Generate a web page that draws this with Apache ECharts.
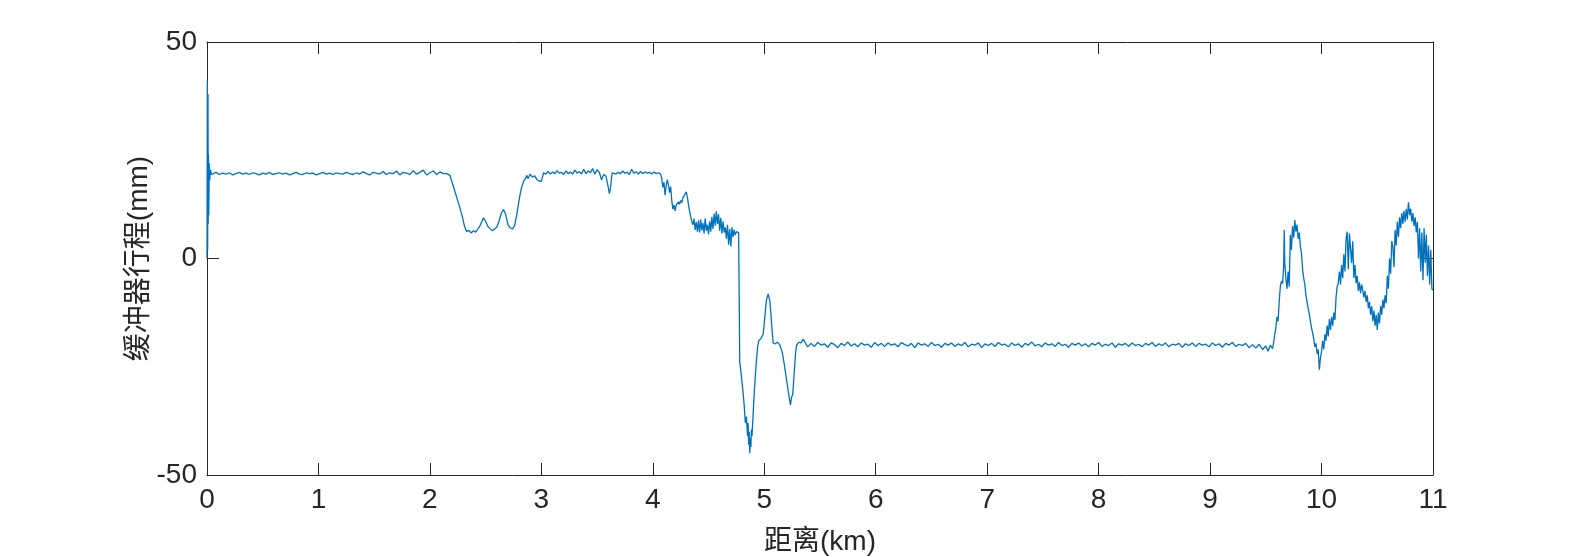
<!DOCTYPE html>
<html><head><meta charset="utf-8">
<script src="https://cdn.jsdelivr.net/npm/echarts@6/dist/echarts.min.js"></script>
<style>html,body{margin:0;padding:0;background:#fff}#c{width:1584px;height:557px}</style>
</head><body><div id="c"></div>
<script>
const xTicks = [0,1,2,3,4,5,6,7,8,9,10,11];
const yTicks = [-50,0,50];
const xName = '距离(km)';
const yName = '缓冲器行程(mm)';

const segStart = [[0,0],[0.003,41],[0.006,2],[0.009,38],[0.011,8],[0.013,24],[0.016,10],[0.02,22],[0.025,18],[0.03,20.5],[0.04,19.4]];
const segFlatHigh = [[0.05,19.6],[0.08,19.9],[0.11,19.4],[0.14,19.7],[0.17,19.5],[0.2,19.8],[0.23,19.3],[0.26,19.6],[0.29,19.9],[0.32,19.5],[0.35,19.7],[0.38,19.4],[0.41,19.8],[0.44,19.6],[0.47,19.3],[0.5,19.7],[0.53,19.5],[0.56,19.9],[0.59,19.4],[0.62,19.6],
[0.65,19.8],[0.68,19.5],[0.71,19.7],[0.74,19.3],[0.77,19.6],[0.8,19.9],[0.83,19.5],[0.86,19.4],[0.89,19.8],[0.92,19.6],[0.95,19.7],[0.98,19.3],[1.01,19.6],[1.04,19.9],[1.07,19.5],[1.1,19.7],[1.13,19.4],[1.16,19.8],[1.19,19.6],[1.22,19.5],
[1.25,19.9],[1.28,19.6],[1.31,19.4],[1.34,19.8],[1.37,19.5],[1.4,20.0],[1.43,19.6],[1.46,19.3],[1.49,19.9],[1.52,19.7],[1.55,19.5],[1.58,20.1],[1.61,19.4],[1.64,19.8],[1.67,19.6],[1.7,20.2],[1.73,19.3],[1.76,19.9],[1.79,19.7],[1.82,19.4],
[1.85,20.3],[1.88,19.5],[1.91,19.9],[1.94,20.4],[1.97,19.3],[2.0,19.8],[2.03,20.2],[2.06,19.4],[2.09,20.0],[2.12,19.6],[2.15,19.6]];
const segDip1 = [[2.18,19.2],[2.2,17.5],[2.23,15],[2.26,12.5],[2.29,9.8],[2.31,7.5],[2.33,6.2],[2.35,6.5],[2.37,5.9],[2.39,6.4],[2.41,6.1],[2.43,6.8],[2.45,7.6],[2.47,8.8],[2.48,9.4],[2.5,8.6],[2.52,7.4],[2.54,6.9],[2.56,6.4],[2.58,6.8],[2.6,7.2],[2.62,8.6],[2.64,10.4],[2.66,11.3],[2.68,10.2],[2.7,7.8],[2.72,7.1],[2.74,6.8],[2.76,7.6],[2.78,10.2],[2.8,13.5],[2.82,16.2],[2.84,17.8],[2.86,18.6],[2.87,19.2],[2.88,18.4],[2.9,19.5],[2.92,18.8],[2.94,19.1],[2.96,18.2],[2.98,17.9],[3.0,17.8],[3.02,19.8],[3.04,19.5]];
const segPlateau = [[3.06,20.1],[3.08,19.5],[3.1,20.0],[3.12,19.6],[3.14,20.3],[3.16,19.7],[3.18,19.9],[3.2,19.4],[3.22,20.2],[3.24,19.6],[3.26,20.0],[3.28,19.5],[3.3,20.4],[3.32,19.7],[3.34,20.1],[3.36,19.5],[3.38,20.6],[3.4,19.6],[3.42,20.2],[3.44,19.8],[3.46,20.8],[3.48,19.5],[3.5,20.5],[3.52,19.9],[3.53,20.2],[3.54,18.2],[3.56,19.4],[3.58,19.0],[3.6,16.5],[3.61,15.0],[3.62,16.2],[3.635,19.8],[3.65,20.1],[3.67,19.5],[3.69,19.9],[3.71,19.6],[3.73,20.2],[3.75,19.7],[3.77,19.9],[3.79,19.4],[3.81,20.6],[3.83,19.7],[3.85,20.0],[3.87,19.5],[3.89,20.1],[3.91,19.6],[3.93,20.0],[3.95,19.7],[3.97,19.9],[3.99,19.5],[4.01,20.0],[4.03,19.6],[4.05,19.8],[4.07,19.5]];
const segDescent = [[4.08,18.5],[4.09,16.4],[4.1,17.6],[4.11,14.6],[4.12,16.8],[4.13,18.2],[4.14,17.0],[4.15,15.2],[4.16,16.6],[4.17,13.4],[4.18,11.4],[4.19,12.3],[4.2,11.0],[4.21,12.4],[4.22,12.0],[4.23,13.1],[4.24,12.5],[4.25,13.4],[4.26,12.9],[4.27,14.0],[4.28,13.6],[4.3,15.4],[4.31,14.2],[4.32,12.4],[4.33,11.0],[4.34,9.6],[4.35,8.5],[4.36,7.8],[4.37,9.2],[4.38,6.6],[4.39,8.4],[4.4,6.2],[4.41,8.8],[4.42,6.0],[4.43,9.0],[4.44,6.5],[4.45,8.2],[4.46,5.8],[4.47,9.3],[4.48,6.4],[4.49,7.8],[4.5,5.6],[4.51,8.6],[4.52,6.2],[4.53,9.6],[4.54,6.8],[4.55,10.4],[4.56,7.6],[4.57,10.9],[4.58,8.0],[4.59,10.2],[4.6,6.4],[4.61,9.4],[4.62,5.8],[4.63,8.6],[4.64,6.0],[4.65,7.2],[4.66,4.6],[4.67,7.8],[4.68,3.2],[4.69,6.8],[4.7,2.8],[4.71,7.2],[4.72,5.0],[4.73,6.6],[4.74,5.4],[4.75,6.2],[4.76,5.8],[4.77,6.0],[4.775,5.8]];
const segTrough = [[4.78,-24],[4.79,-26],[4.8,-28.5],[4.81,-31],[4.82,-34],[4.83,-38],[4.84,-36.5],[4.85,-41],[4.855,-38],[4.86,-43],[4.865,-40],[4.87,-45],[4.875,-41.5],[4.88,-43.5],[4.885,-39.5],[4.89,-41],[4.9,-36],[4.91,-31],[4.92,-27],[4.93,-23.5],[4.94,-20.5],[4.95,-19],[4.97,-18.5],[4.99,-17.5],[5.0,-15],[5.01,-12],[5.02,-9.5],[5.035,-8.2],[5.05,-9.8],[5.06,-13],[5.07,-16.5],[5.08,-19.5],[5.1,-19.7],[5.12,-19.3],[5.14,-20],[5.16,-21.5],[5.18,-24.5],[5.2,-28],[5.22,-31.5],[5.235,-33.8],[5.245,-32],[5.255,-31.5],[5.27,-26],[5.28,-22],[5.29,-20],[5.31,-19.3],[5.33,-19.5],[5.35,-18.6],[5.37,-19.6],[5.39,-20.4]];
const segFlatLow = [[5.42,-19.6],[5.45,-20.3],[5.48,-19.4],[5.51,-20.0],[5.54,-19.7],[5.57,-20.5],[5.6,-19.5],[5.63,-19.9],[5.66,-20.6],[5.69,-19.6],[5.72,-20.1],[5.75,-19.3],[5.78,-20.2],[5.81,-19.7],[5.84,-20.4],[5.87,-19.5],[5.9,-20.0],[5.93,-19.8],[5.96,-20.5],[5.99,-19.4],
[6.02,-20.1],[6.05,-19.6],[6.08,-20.3],[6.11,-19.5],[6.14,-20.0],[6.17,-19.7],[6.2,-20.4],[6.23,-19.4],[6.26,-19.9],[6.29,-20.2],[6.32,-19.6],[6.35,-20.6],[6.38,-19.5],[6.41,-20.0],[6.44,-19.7],[6.47,-20.3],[6.5,-19.4],[6.53,-20.1],[6.56,-19.8],[6.59,-20.5],
[6.62,-19.6],[6.65,-20.0],[6.68,-19.5],[6.71,-20.3],[6.74,-19.7],[6.77,-20.1],[6.8,-19.4],[6.83,-20.4],[6.86,-19.8],[6.89,-20.0],[6.92,-19.5],[6.95,-20.6],[6.98,-19.7],[7.01,-20.1],[7.04,-19.6],[7.07,-20.3],[7.1,-19.4],[7.13,-20.0],[7.16,-19.8],[7.19,-20.4],
[7.22,-19.5],[7.25,-20.1],[7.28,-19.7],[7.31,-20.5],[7.34,-19.6],[7.37,-20.0],[7.4,-19.3],[7.43,-20.2],[7.46,-19.8],[7.49,-20.4],[7.52,-19.5],[7.55,-20.0],[7.58,-19.7],[7.61,-20.3],[7.64,-19.4],[7.67,-20.1],[7.7,-19.8],[7.73,-20.5],[7.76,-19.6],[7.79,-20.0],
[7.82,-19.5],[7.85,-20.2],[7.88,-19.7],[7.91,-20.4],[7.94,-19.6],[7.97,-20.0],[8.0,-19.4],[8.03,-20.3],[8.06,-19.8],[8.09,-20.1],[8.12,-19.5],[8.15,-20.5],[8.18,-19.7],[8.21,-20.0],[8.24,-19.6],[8.27,-20.3],[8.3,-19.5],[8.33,-20.1],[8.36,-19.8],[8.39,-20.4],
[8.42,-19.6],[8.45,-20.0],[8.48,-19.4],[8.51,-20.3],[8.54,-19.7],[8.57,-20.1],[8.6,-19.5],[8.63,-20.4],[8.66,-19.8],[8.69,-20.0],[8.72,-19.6],[8.75,-20.5],[8.78,-19.7],[8.81,-20.1],[8.84,-19.5],[8.87,-20.3],[8.9,-19.6],[8.93,-20.0],[8.96,-19.8],[8.99,-20.4],
[9.02,-19.5],[9.05,-20.1],[9.08,-19.7],[9.11,-20.5],[9.14,-19.6],[9.17,-20.0],[9.2,-19.4],[9.23,-20.3],[9.26,-19.8],[9.29,-20.1],[9.32,-19.6],[9.35,-20.6],[9.38,-19.9],[9.41,-20.7],[9.44,-19.8],[9.47,-21.0],[9.5,-20.2],[9.52,-21.4],[9.54,-20.0],[9.56,-20.8]];
const segEnd = [[9.57,-19.5],[9.58,-17.5],[9.59,-16],[9.6,-13.5],[9.61,-14.5],[9.62,-10],[9.63,-6.5],[9.64,-5.2],[9.65,-5.8],[9.66,-2],[9.665,6.6],[9.67,-1],[9.68,-4.5],[9.69,-7],[9.7,-3],[9.71,-6.5],[9.72,5.5],[9.73,2],[9.74,7.5],[9.75,4.8],[9.76,8.9],[9.77,6.2],[9.78,7.8],[9.79,4.5],[9.8,6.0],[9.81,2.8],[9.82,1.2],[9.83,-2.5],[9.84,-4.5],[9.85,-6.0],[9.86,-8.5],[9.87,-10],[9.88,-11.5],[9.89,-12.7],[9.9,-14.5],[9.91,-16],[9.92,-17.2],[9.93,-18.5],[9.94,-20.4],[9.95,-19.6],[9.96,-22],[9.97,-21],[9.98,-25.7],[9.99,-23],[10.0,-21.5],[10.01,-19],[10.02,-21],[10.03,-17.5],[10.04,-19],[10.05,-15.5],[10.06,-18],[10.07,-14],[10.08,-16.5],[10.09,-13.5],[10.1,-15.5],[10.11,-12.5],[10.12,-14.2],[10.13,-9],[10.14,-6.5],[10.15,-5.7],[10.16,-3],[10.17,-6],[10.18,-1.5],[10.19,-4.5],[10.2,1],[10.21,-3],[10.22,4.5],[10.23,6.2],[10.24,-2.5],[10.25,5.8],[10.26,6.0],[10.27,-1],[10.28,4],[10.29,-4.5],[10.3,-1.5],[10.31,-5.7],[10.32,-4],[10.33,-7.5],[10.34,-5.5],[10.35,-8],[10.36,-6],[10.37,-7.3],[10.38,-9],[10.39,-7.5],[10.4,-10],[10.41,-8.5],[10.42,-11.5],[10.43,-10],[10.44,-13],[10.45,-11],[10.46,-14.5],[10.47,-12],[10.48,-15.5],[10.49,-13],[10.5,-16.5],[10.51,-12.5],[10.52,-15],[10.53,-11],[10.54,-13],[10.55,-9.5],[10.56,-11.5],[10.57,-8.5],[10.58,-10.3],[10.59,-4],[10.6,-7],[10.61,0],[10.62,-3.5],[10.63,4],[10.64,2.7],[10.65,-2],[10.66,6.6],[10.67,3],[10.68,8.5],[10.69,5],[10.7,9.5],[10.71,7],[10.72,10.5],[10.73,8],[10.74,11],[10.75,8.5],[10.76,11.5],[10.77,9],[10.78,13],[10.79,10],[10.8,11.5],[10.81,8.5],[10.82,10.5],[10.83,7.5],[10.84,9.5],[10.85,6],[10.86,8.5],[10.87,0],[10.88,7],[10.89,-3],[10.9,6],[10.91,-5],[10.92,7],[10.93,-1],[10.94,5.5],[10.95,-4],[10.96,3],[10.97,-6],[10.98,2],[10.99,-7],[11.0,-7.3]];

const seriesData = [].concat(segStart, segFlatHigh, segDip1, segPlateau, segDescent, segTrough, segFlatLow, segEnd);

const FONT = "'Liberation Sans', Arial, 'Noto Sans CJK SC', sans-serif";
const TXT = '#262626';
const axisLineStyle = {show:true, onZero:false, lineStyle:{color:TXT, width:1}};
const tickStyle = {show:true, inside:true, length:12, lineStyle:{color:TXT, width:1}};

const chart = echarts.init(document.getElementById('c'), null, {renderer:'canvas'});
chart.setOption({
  animation:false,
  backgroundColor:'#fff',
  grid:{left:207, right:151, top:42, bottom:82, containLabel:false, outerBoundsMode:'none'},
  xAxis:[{
    type:'value', min:xTicks[0], max:xTicks[xTicks.length-1], interval:1, position:'bottom',
    name:xName, nameLocation:'middle', nameGap:53, nameMoveOverlap:false,
    nameTextStyle:{fontFamily:FONT, fontSize:28, color:TXT},
    axisLine:axisLineStyle, axisTick:tickStyle, splitLine:{show:false},
    axisLabel:{fontFamily:FONT, fontSize:28, color:TXT, margin:11}
  },{
    type:'value', min:xTicks[0], max:xTicks[xTicks.length-1], interval:1, position:'top',
    axisLine:axisLineStyle, axisTick:tickStyle, splitLine:{show:false}, axisLabel:{show:false}
  }],
  yAxis:[{
    type:'value', min:yTicks[0], max:yTicks[yTicks.length-1], interval:50, position:'left',
    name:yName, nameLocation:'middle', nameGap:54, nameRotate:90, nameMoveOverlap:false,
    nameTextStyle:{fontFamily:FONT, fontSize:28, color:TXT},
    axisLine:axisLineStyle, axisTick:tickStyle, splitLine:{show:false},
    axisLabel:{fontFamily:FONT, fontSize:28, color:TXT, margin:10}
  },{
    type:'value', min:yTicks[0], max:yTicks[yTicks.length-1], interval:50, position:'right',
    axisLine:axisLineStyle, axisTick:tickStyle, splitLine:{show:false}, axisLabel:{show:false}
  }],
  series:[{
    type:'line', data:seriesData, showSymbol:false, symbol:'none', sampling:null,
    lineStyle:{color:'#0072BD', width:1.3}, clip:true
  }]
});
</script>
</body></html>
